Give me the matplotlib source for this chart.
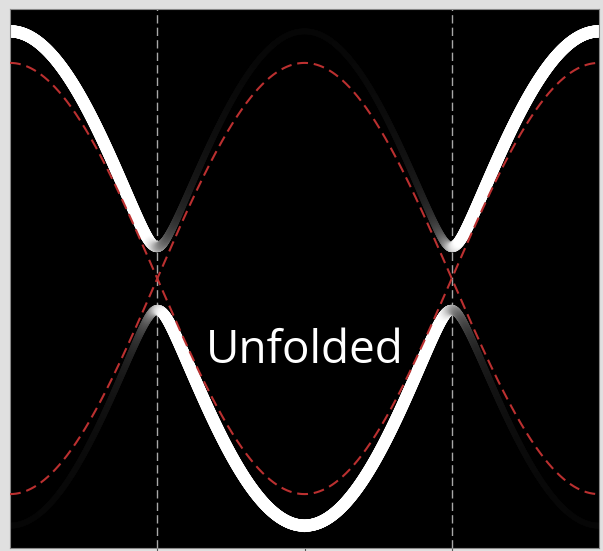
import numpy as np
import matplotlib
matplotlib.use("Agg")
import matplotlib.pyplot as plt
from matplotlib.collections import LineCollection

# band model (energies in units of the bare hopping)
k_limits = [-np.pi, np.pi]
k_zone = [-np.pi / 2, np.pi / 2]       # folded zone boundaries (gray dashed)
k_ticks = [-np.pi / 2, 0.0, np.pi / 2]
bare_hopping = 1.0                      # red dashed bands: +/- t cos k
dressed_hopping = 1.137                 # white bands
gap = 0.146                             # hybridisation gap at the zone boundary
e_limits = [-1.25, 1.25]
label = "Unfolded"


def weighted_line(ax, k, e, w, lw_max=8.8):
    # spectral weight shown as brightness (and a bit of width)
    pts = np.column_stack([k, e]).reshape(-1, 1, 2)
    segs = np.concatenate([pts[:-1], pts[1:]], axis=1)
    wm = np.clip(0.5 * (w[:-1] + w[1:]), 0, 1)
    s = np.clip(1.2 * wm ** 0.7, 0, 1)
    cols = plt.cm.gray(s)
    lc = LineCollection(segs, colors=cols,
                        linewidths=lw_max * (0.45 + 0.55 * np.sqrt(wm)),
                        capstyle="round", joinstyle="round", zorder=2)
    ax.add_collection(lc)


fig = plt.figure(figsize=(6.03, 5.51), dpi=100, facecolor="#e0e0e0")
ax = fig.add_axes([10 / 603, 3 / 551, 589 / 603, 539 / 551])
ax.set_facecolor("black")

k = np.linspace(k_limits[0], k_limits[1], 1200)
eps = -dressed_hopping * np.cos(k)
E = np.sqrt(eps ** 2 + gap ** 2)
w_up = 0.5 * (1 + eps / E)
w_dn = 0.5 * (1 - eps / E)

weighted_line(ax, k, E, w_up)
weighted_line(ax, k, -E, w_dn)

ax.plot(k, -bare_hopping * np.cos(k), color="#bb3030", lw=1.5,
        dashes=(5.2, 2.8), zorder=3)
ax.plot(k, bare_hopping * np.cos(k), color="#bb3030", lw=1.5,
        dashes=(5.2, 2.8), zorder=3)

for kz in k_zone:
    ax.axvline(kz, color="#a8a8a8", lw=1.0, dashes=(6, 3), zorder=1)

ax.text(0, -0.39, label, color="white", fontsize=33, family="Open Sans",
        ha="center", va="baseline", zorder=4)

ax.set_xlim(k_limits)
ax.set_ylim(e_limits)
ax.set_xticks(k_ticks)
ax.set_xticklabels([])
ax.set_yticks([])
ax.tick_params(axis="x", direction="out", length=3, color="#555555")
for sp in ax.spines.values():
    sp.set_color("#888888")
    sp.set_linewidth(0.8)

fig.savefig("out.png", dpi=100, facecolor=fig.get_facecolor())
